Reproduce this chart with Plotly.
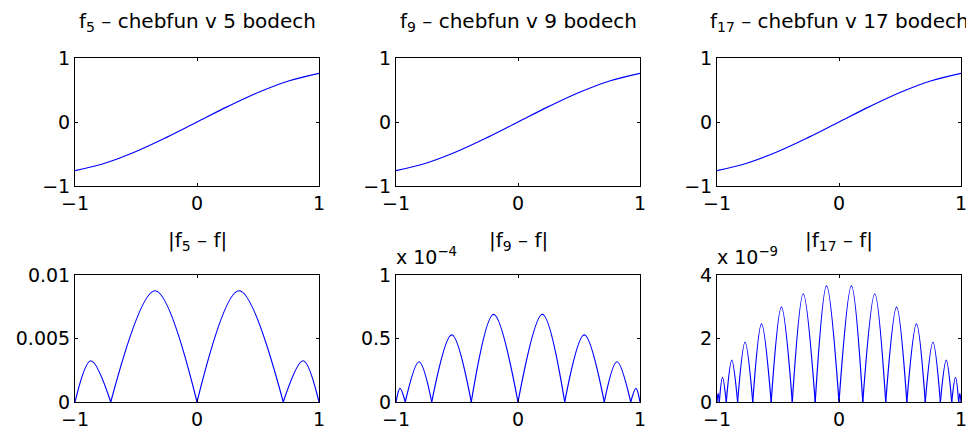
import plotly.graph_objects as go

# ---- data ----
x_top = [-1, -0.75, -0.5, -0.25, 0, 0.25, 0.5, 0.75, 1]
f5_vals = [-0.76, -0.64, -0.46, -0.24, 0, 0.24, 0.46, 0.64, 0.76]
f9_vals = [-0.76, -0.64, -0.46, -0.24, 0, 0.24, 0.46, 0.64, 0.76]
f17_vals = [-0.76, -0.64, -0.46, -0.24, 0, 0.24, 0.46, 0.64, 0.76]

err5_zeros = [-1, -0.707, 0, 0.707, 1]
err5_peak_x = [-0.87, -0.344, 0.344, 0.87]
err5_peak_y = [0.00325, 0.00876, 0.00876, 0.00325]

err9_zeros = [-1, -0.924, -0.707, -0.383, 0, 0.383, 0.707, 0.924, 1]
err9_peak_x = [-0.967, -0.811, -0.543, -0.2, 0.2, 0.543, 0.811, 0.967]
err9_peak_y = [0.108, 0.317, 0.528, 0.69, 0.69, 0.528, 0.317, 0.108]  # x 1e-4

err17_zeros = [-1, -0.981, -0.924, -0.831, -0.707, -0.556, -0.383, -0.195, 0,
               0.195, 0.383, 0.556, 0.707, 0.831, 0.924, 0.981, 1]
err17_peak_x = [-0.991, -0.955, -0.879, -0.77, -0.635, -0.472, -0.293, -0.102,
                0.102, 0.293, 0.472, 0.635, 0.77, 0.879, 0.955, 0.991]
err17_peak_y = [0.27, 0.78, 1.32, 1.89, 2.46, 2.99, 3.41, 3.66,
                3.66, 3.41, 2.99, 2.46, 1.89, 1.32, 0.78, 0.27]  # x 1e-9

top_titles = ["f<sub>5</sub> – chebfun v 5 bodech",
              "f<sub>9</sub> – chebfun v 9 bodech",
              "f<sub>17</sub> – chebfun v 17 bodech"]
bottom_titles = ["|f<sub>5</sub> – f|", "|f<sub>9</sub> – f|", "|f<sub>17</sub> – f|"]
x_tickvals = [-1, 0, 1]
x_ticktext = ["−1", "0", "1"]
top_yticks = [-1, 0, 1]
top_yticktext = ["−1", "0", "1"]
bottom_yticks = [[0, 0.005, 0.01], [0, 0.5, 1], [0, 2, 4]]
bottom_yticktext = [["0", "0.005", "0.01"], ["0", "0.5", "1"], ["0", "2", "4"]]
bottom_yranges = [[0, 0.01], [0, 1], [0, 4]]
exponent_labels = [None, "x 10<sup>−4</sup>", "x 10<sup>−9</sup>"]

# ---- layout geometry (page has an 8px body margin) ----
OFF = 8
W, H = 974 - OFF, 429 - OFF
FONT = "DejaVu Sans"
FS = 19
TFS = 20
BLUE = "#0000ff"
col_px = [(75, 319), (396, 640), (717, 961)]
top_px = (58, 186)
bot_px = (275, 402)


def px_x(p):
    return (p - OFF) / W


def px_y(p):
    return 1 - (p - OFF) / H


def xd(a, b):
    return [px_x(a), px_x(b)]


def yd(t, b):
    return [px_y(b), px_y(t)]


def arches(zeros, px, py):
    xs, ys = [], []
    for i in range(len(px)):
        xs += [zeros[i], px[i], zeros[i + 1], None]
        ys += [0, py[i], 0, None]
    return xs, ys


fig = go.Figure()
tops = [f5_vals, f9_vals, f17_vals]
errs = [(err5_zeros, err5_peak_x, err5_peak_y),
        (err9_zeros, err9_peak_x, err9_peak_y),
        (err17_zeros, err17_peak_x, err17_peak_y)]

axis_common = dict(showline=True, mirror="ticks", linecolor="black", linewidth=1,
                   ticks="inside", ticklen=3, tickcolor="black", tickwidth=1,
                   showgrid=False, zeroline=False, automargin=False,
                   tickfont=dict(family=FONT, size=FS, color="black"))

annotations = []
for c in range(3):
    ti = 2 * c + 1
    bi = 2 * c + 2
    fig.add_trace(go.Scatter(x=x_top, y=tops[c], mode="lines",
                             line=dict(color=BLUE, width=1.2, shape="spline"),
                             xaxis=f"x{ti}", yaxis=f"y{ti}", showlegend=False))
    ex, ey = arches(*errs[c])
    fig.add_trace(go.Scatter(x=ex, y=ey, mode="lines", connectgaps=False,
                             line=dict(color=BLUE, width=1.2, shape="spline", smoothing=1),
                             xaxis=f"x{bi}", yaxis=f"y{bi}", showlegend=False))
    a, b = col_px[c]
    fig.layout[f"xaxis{ti}"] = dict(domain=xd(a, b), anchor=f"y{ti}", range=[-1, 1],
                                    tickvals=x_tickvals, ticktext=x_ticktext, **axis_common)
    fig.layout[f"yaxis{ti}"] = dict(domain=yd(*top_px), anchor=f"x{ti}", range=[-1, 1],
                                    tickvals=top_yticks, ticktext=top_yticktext, **axis_common)
    fig.layout[f"xaxis{bi}"] = dict(domain=xd(a, b), anchor=f"y{bi}", range=[-1, 1],
                                    tickvals=x_tickvals, ticktext=x_ticktext, **axis_common)
    fig.layout[f"yaxis{bi}"] = dict(domain=yd(*bot_px), anchor=f"x{bi}", range=bottom_yranges[c],
                                    tickvals=bottom_yticks[c], ticktext=bottom_yticktext[c],
                                    **axis_common)
    cx = px_x((a + b) / 2)
    annotations.append(dict(text=top_titles[c], x=cx, y=px_y(22), xref="paper", yref="paper",
                            xanchor="center", yanchor="middle", showarrow=False,
                            font=dict(family=FONT, size=TFS, color="black")))
    annotations.append(dict(text=bottom_titles[c], x=cx, y=px_y(241), xref="paper", yref="paper",
                            xanchor="center", yanchor="middle", showarrow=False,
                            font=dict(family=FONT, size=TFS, color="black")))
    if exponent_labels[c]:
        annotations.append(dict(text=exponent_labels[c], x=px_x(a - 2), y=px_y(270),
                                xref="paper", yref="paper", xanchor="left", yanchor="bottom",
                                showarrow=False, font=dict(family=FONT, size=FS, color="black")))

fig.update_layout(width=W, height=H, margin=dict(l=0, r=0, t=0, b=0, autoexpand=False),
                  plot_bgcolor="white", paper_bgcolor="white",
                  annotations=annotations)

fig.write_html("out.html")
